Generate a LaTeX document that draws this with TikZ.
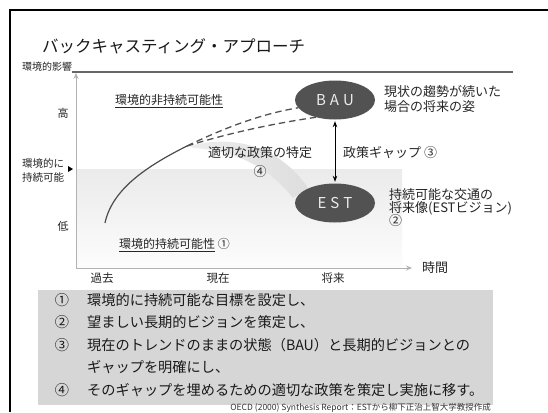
\documentclass[tikz,border=0pt]{standalone}
\usepackage{fontspec}
\setmainfont{Noto Sans CJK JP}
\usetikzlibrary{arrows.meta,shapes.geometric}
\begin{document}
\begin{tikzpicture}[x=1pt,y=-1pt,
  lbl/.style={inner sep=0pt, text=black!85, anchor=west},
  lblc/.style={inner sep=0pt, text=black!85},
  fs/.style={font=\fontsize{#1}{#1}\selectfont},
  bubble/.style={ellipse, fill=black!68, text=black!8, minimum width=80pt, minimum height=39pt, inner sep=0pt, font=\fontsize{15}{15}\selectfont},
  axis/.style={black!30, line width=0.8pt},
  dashline/.style={black!68, line width=1.3pt, dash pattern=on 6.5pt off 4pt},
  listtxt/.style={inner sep=0pt, anchor=west, text=black!90, font=\fontsize{14.2}{14.2}\selectfont},
  listnum/.style={inner sep=0pt, text=black!90, font=\fontsize{14.2}{14.2}\selectfont}]
\useasboundingbox (0,0) rectangle (548,412);
\fill[white] (0,0) rectangle (548,412);
% slide frame
\draw[line width=1.6pt] (10,412) -- (10,10) -- (548,10);
% title
\node[lbl, fs=16.5, text=black!90] (title) at (42,46) {バックキャスティング・アプローチ};
% shaded sustainable region
\shade[top color=black!8, bottom color=black!1] (76,169) rectangle (402,268);
% top line
\node[lbl, fs=10] (impact) at (22,67) {環境的影響};
\draw[black!60, line width=1.4pt] (72,72) -- (513,72);
% axes
\coordinate (o) at (76,268);
\coordinate (ytop) at (76,73);
\coordinate (xend) at (412,268);
\draw[axis, -{Stealth[length=6pt,width=5pt]}] (o) -- (ytop);
\draw[axis, -{Stealth[length=6pt,width=5pt]}] (o) -- (xend);
% swoosh band
\shade[left color=black!7, right color=black!13] (189,146) .. controls (240,133) and (282,150) .. (308,188)
  -- (293,198) .. controls (268,166) and (235,151) .. (194,148) -- cycle;
% curve
\coordinate (c0) at (105,223);
\coordinate (c1) at (187,146);
\draw[black!70, line width=1.2pt] (c0) .. controls (112,190) and (145,167) .. (c1);
% ellipses
\node[bubble] (bau) at (335,100) {B\hspace{4pt}A\hspace{4pt}U};
\node[bubble] (est) at (335,203) {E\hspace{4pt}S\hspace{4pt}T};
% dashed projections
\draw[dashline] (c1) .. controls (222,129) and (260,114) .. (bau.192);
\draw[dashline] (c1) .. controls (226,134) and (270,124) .. (bau.222);
% gap arrow
\draw[black, line width=0.9pt, {Stealth[length=6pt,width=4.5pt]}-{Stealth[length=6pt,width=4.5pt]}, shorten <=1.5pt, shorten >=1.5pt] (bau.south) -- (est.north);
% axis labels
\node[lblc, fs=11] (high) at (63,113) {高};
\node[lbl, fs=10.5] (sus1) at (22,163) {環境的に};
\node[lbl, fs=10.5] (sus2) at (22,178) {持続可能};
\fill[black] (68,166) -- (73,169) -- (68,172) -- cycle;
\node[lblc, fs=11] (low) at (63,226) {低};
\node[lblc, fs=11.5] (past) at (102,278) {過去};
\node[lblc, fs=11.5] (now) at (218,278) {現在};
\node[lblc, fs=11.5] (fut) at (333,278) {将来};
\node[lbl, fs=13] (time) at (422,268) {時間};
% region labels
\node[lbl, fs=12] (unsus) at (115,101) {\underline{環境的非持続可能性}};
\node[lbl, fs=12] (sus) at (119,245) {\underline{環境的持続可能性} ①};
\node[lbl, fs=13] (pol) at (208,153) {適切な政策の特定};
\node[lblc, fs=13] (n4) at (260,172) {④};
\node[lbl, fs=13] (gap) at (343,153) {政策ギャップ ③};
\node[lbl, fs=13] (bau1) at (384,92) {現状の趨勢が続いた};
\node[lbl, fs=13] (bau2) at (384,107) {場合の将来の姿};
\node[lbl, fs=13] (est1) at (389,195) {持続可能な交通の};
\node[lbl, fs=13] (est2) at (389,208) {将来像(ESTビジョン)};
\node[lbl, fs=13] (est3) at (389,221) {②};
% bottom box
\fill[black!16] (38,290) rectangle (493,405);
\node[listnum] (l1n) at (62,300) {①};
\node[listtxt] (l1) at (87,300) {環境的に持続可能な目標を設定し、};
\node[listnum] (l2n) at (62,322.5) {②};
\node[listtxt] (l2) at (87,322.5) {望ましい長期的ビジョンを策定し、};
\node[listnum] (l3n) at (62,345) {③};
\node[listtxt] (l3) at (87,345) {現在のトレンドのままの状態（BAU）と長期的ビジョンとの};
\node[listtxt] (l4) at (87,367.5) {ギャップを明確にし、};
\node[listnum] (l5n) at (62,390) {④};
\node[listtxt] (l5) at (87,390) {そのギャップを埋めるための適切な政策を策定し実施に移す。};
% citation
\node[inner sep=0pt, anchor=east, text=black!80, fs=8.5] (cite) at (491,408) {OECD (2000) Synthesis Report：ESTから柳下正治上智大学教授作成};
\end{tikzpicture}
\end{document}
